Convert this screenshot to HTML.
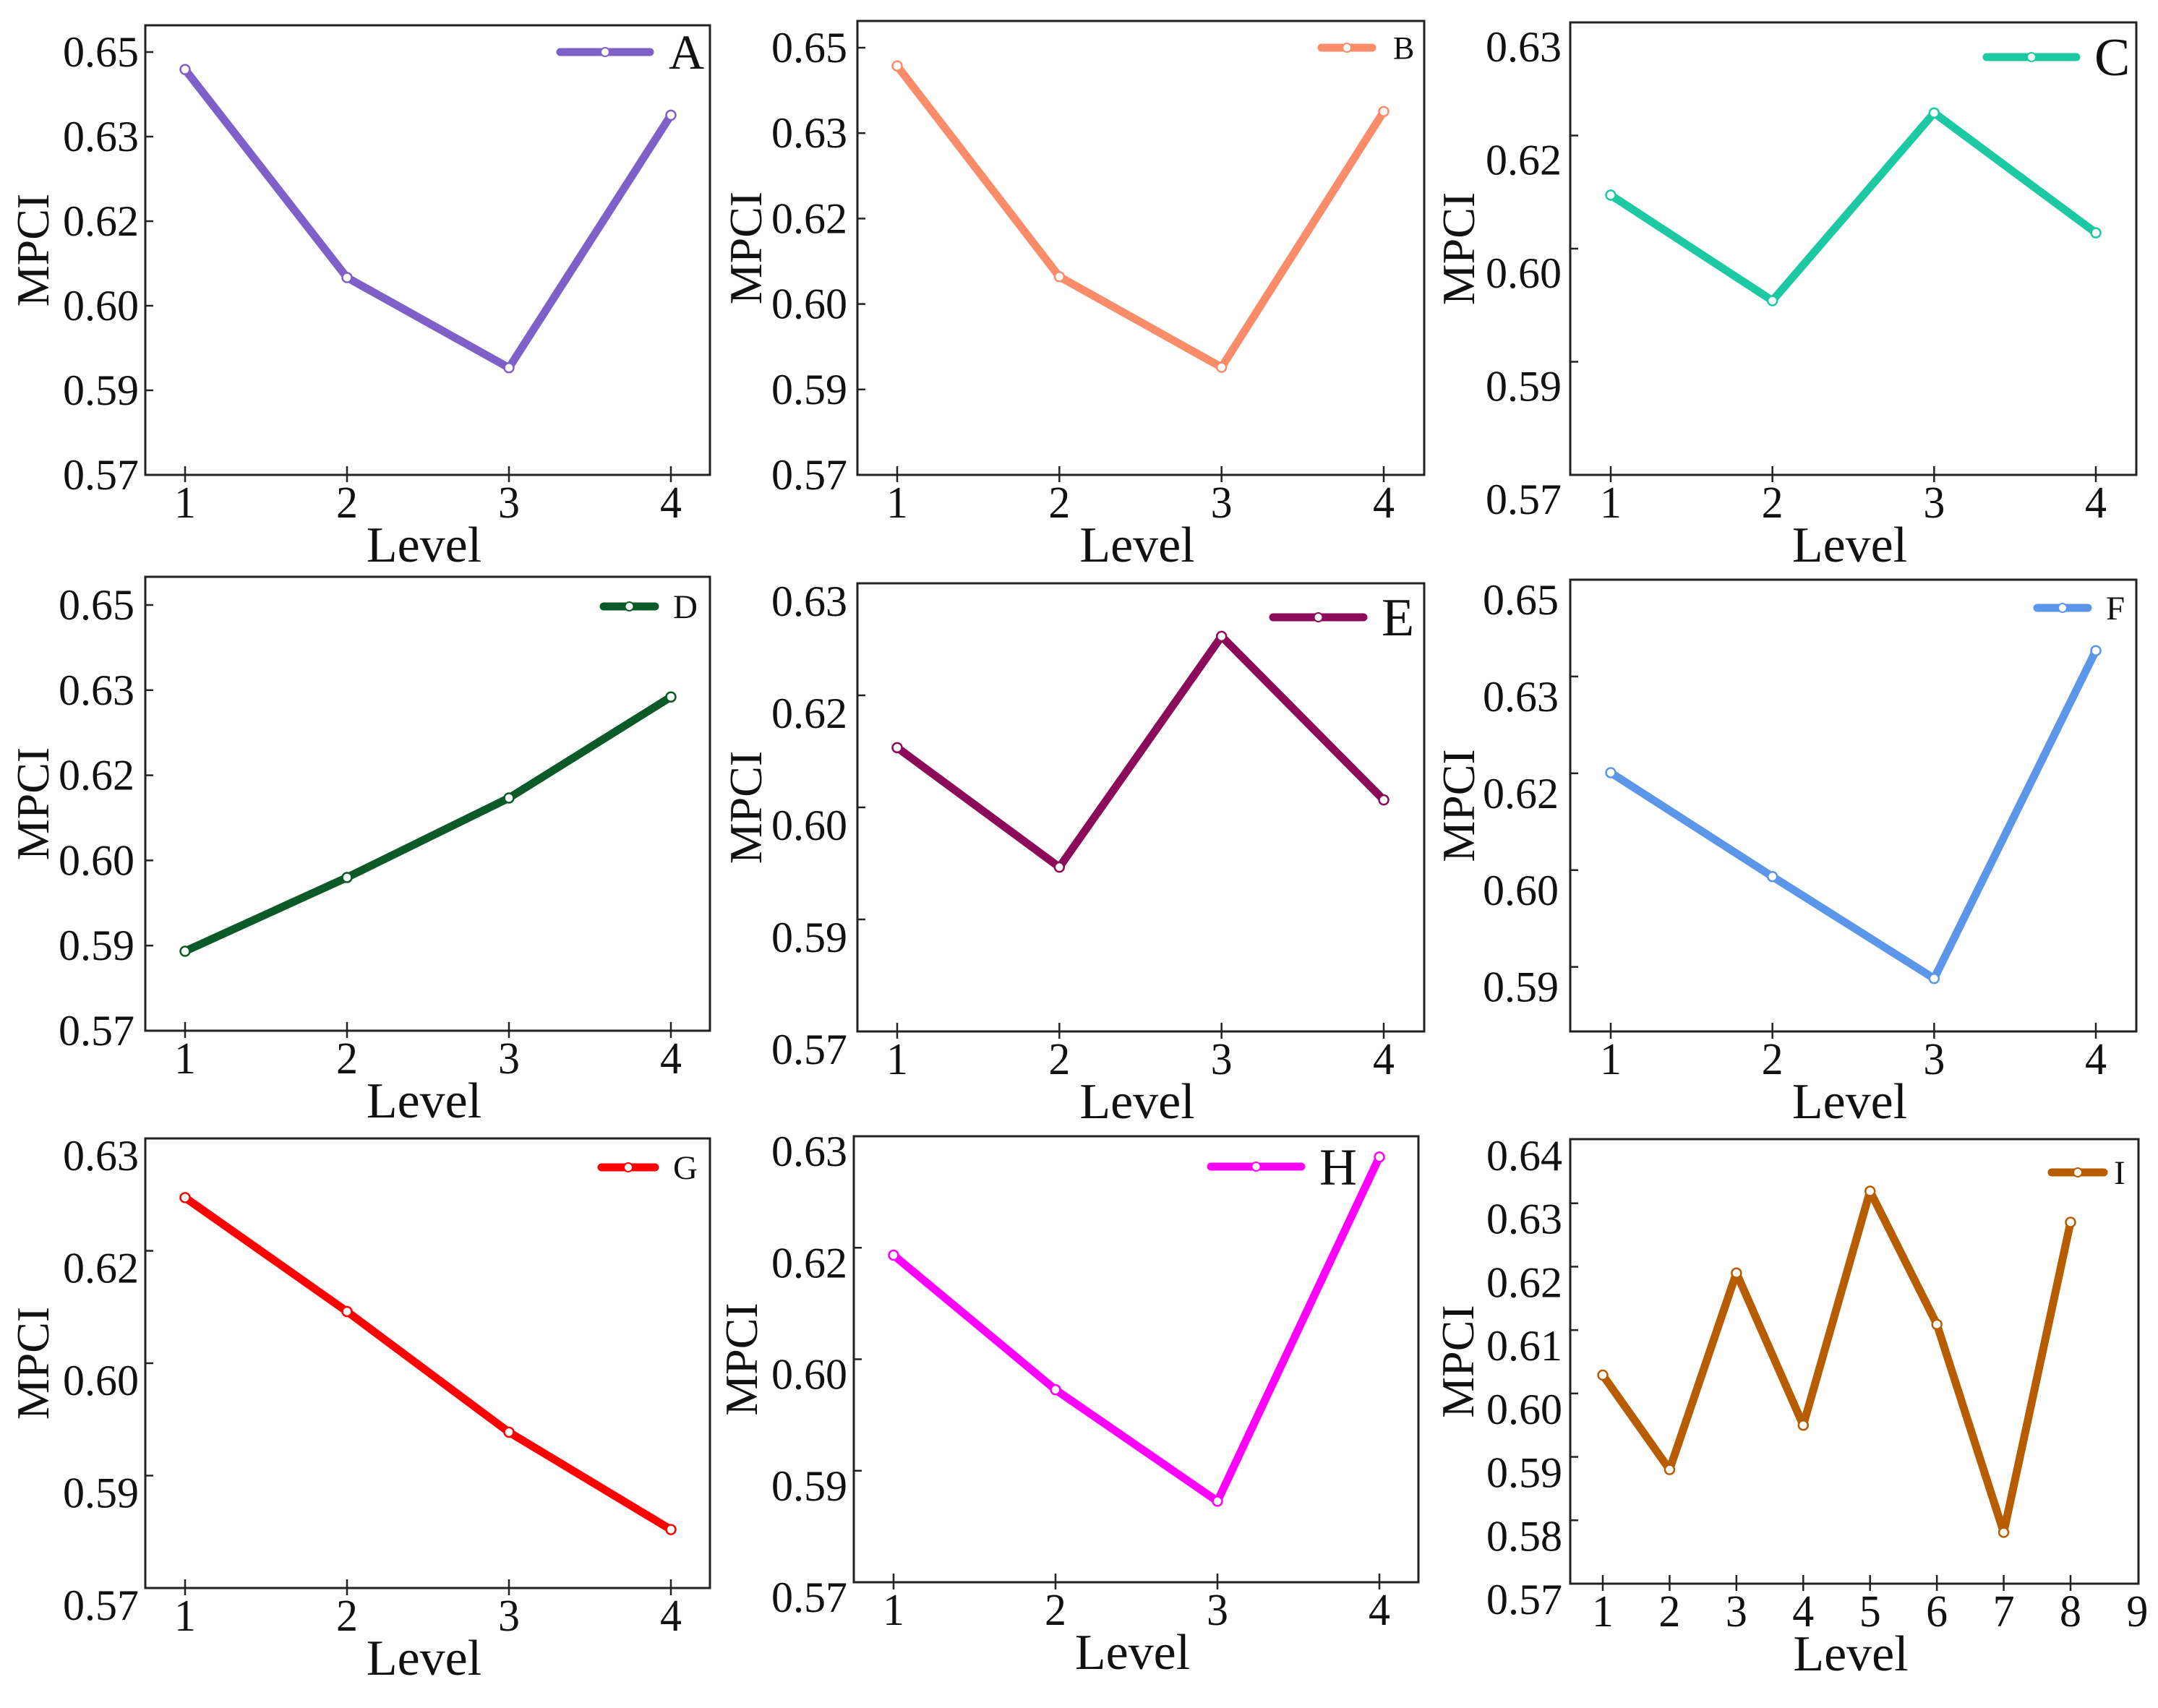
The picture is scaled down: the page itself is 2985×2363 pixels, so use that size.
<!DOCTYPE html>
<html><head><meta charset="utf-8"><style>
html,body{margin:0;padding:0;background:#fff}
svg{display:block}
text{font-family:"Liberation Serif",serif;fill:#111}
</style></head><body>
<svg id="fig" width="2985" height="2363" viewBox="0 0 2985 2363" xmlns="http://www.w3.org/2000/svg"></svg>
<script>
// ---- data ----
const levels4 = [1, 2, 3, 4];
const levels8 = [1, 2, 3, 4, 5, 6, 7, 8];
const xTickLabels4 = ["1", "2", "3", "4"];
const xTickLabels9 = ["1", "2", "3", "4", "5", "6", "7", "8", "9"];
const valuesA = [0.6469, 0.6100, 0.5940, 0.6388];
const valuesB = [0.6468, 0.6098, 0.5939, 0.6388];
const valuesC = [0.6071, 0.5931, 0.6180, 0.6021];
const valuesD = [0.5890, 0.6020, 0.6160, 0.6338];
const valuesE = [0.6080, 0.5920, 0.6229, 0.6010];
const valuesF = [0.6201, 0.6040, 0.5882, 0.6390];
const valuesG = [0.6221, 0.6069, 0.5908, 0.5778];
const valuesH = [0.6140, 0.5959, 0.5809, 0.6272];
const valuesI = [0.6029, 0.5880, 0.6190, 0.5950, 0.6319, 0.6109, 0.5781, 0.6270];
const yTicksAB = [0.575, 0.59, 0.605, 0.62, 0.635, 0.65];
const yLabelsAB = ["0.57", "0.59", "0.60", "0.62", "0.63", "0.65"];
const yTicksC = [0.57, 0.585, 0.60, 0.615, 0.63];
const yLabelsC = ["0.57", "0.59", "0.60", "0.62", "0.63"];
const yTicksF = [0.59, 0.605, 0.62, 0.635, 0.65];
const yLabelsF = ["0.59", "0.60", "0.62", "0.63", "0.65"];
const yTicksI = [0.57, 0.58, 0.59, 0.60, 0.61, 0.62, 0.63, 0.64];
const yLabelsI = ["0.57", "0.58", "0.59", "0.60", "0.61", "0.62", "0.63", "0.64"];
const seriesNames = ["A", "B", "C", "D", "E", "F", "G", "H", "I"];

// ---- layout (pixels) ----
const panels = [
 {n:"A",vals:valuesA,cats:levels4,xl:xTickLabels4,yt:yTicksAB,yl:yLabelsAB,color:"#7f5fc8",L:201,T:35,R:982,B:657,x0:256,x1:928,v0:0.575,p0:657,v1:0.65,p1:72,lo:0,lr:192,my:45,leg:[775,899,72,925,68]},
 {n:"B",vals:valuesB,cats:levels4,xl:xTickLabels4,yt:yTicksAB,yl:yLabelsAB,color:"#fa8c6a",L:1186,T:29,R:1970,B:657,x0:1241,x1:1914,v0:0.575,p0:657,v1:0.65,p1:66,lo:0,lr:1172,my:1031,leg:[1828,1898,66,1927,44]},
 {n:"C",vals:valuesC,cats:levels4,xl:xTickLabels4,yt:yTicksC,yl:yLabelsC,color:"#1cc9a3",L:2172,T:31,R:2955,B:657,x0:2228,x1:2899,v0:0.57,p0:657,v1:0.63,p1:31,lo:34,lr:2160,my:2017,leg:[2748,2872,79,2897,74]},
 {n:"D",vals:valuesD,cats:levels4,xl:xTickLabels4,yt:yTicksAB,yl:yLabelsAB,color:"#0b5a27",L:201,T:798,R:982,B:1426,x0:256,x1:928,v0:0.575,p0:1426,v1:0.65,p1:837,lo:0,lr:186,my:45,leg:[835,906,839,931,47]},
 {n:"E",vals:valuesE,cats:levels4,xl:xTickLabels4,yt:yTicksC,yl:yLabelsC,color:"#8b0a5a",L:1186,T:807,R:1970,B:1427,x0:1241,x1:1914,v0:0.57,p0:1427,v1:0.63,p1:807,lo:25,lr:1172,my:1031,leg:[1761,1886,854,1911,74]},
 {n:"F",vals:valuesF,cats:levels4,xl:xTickLabels4,yt:yTicksF,yl:yLabelsF,color:"#5b96e8",L:2172,T:802,R:2955,B:1427,x0:2228,x1:2899,v0:0.58,p0:1427,v1:0.65,p1:802,lo:28,lr:2156,my:2017,leg:[2818,2888,841,2913,47]},
 {n:"G",vals:valuesG,cats:levels4,xl:xTickLabels4,yt:yTicksC,yl:yLabelsC,color:"#ff0000",L:201,T:1575,R:982,B:2197,x0:256,x1:928,v0:0.57,p0:2197,v1:0.63,p1:1575,lo:24,lr:192,my:45,leg:[832,906,1615,931,47]},
 {n:"H",vals:valuesH,cats:levels4,xl:xTickLabels4,yt:yTicksC,yl:yLabelsC,color:"#ff00ff",L:1181,T:1572,R:1962,B:2189,x0:1236,x1:1908,v0:0.57,p0:2189,v1:0.63,p1:1572,lo:21,lr:1172,my:1025,leg:[1675,1800,1614,1825,72]},
 {n:"I",vals:valuesI,cats:levels8,xl:xTickLabels9,yt:yTicksI,yl:yLabelsI,color:"#b85c00",L:2172,T:1576,R:2958,B:2191,x0:2217,x1:2864,v0:0.57,p0:2191,v1:0.64,p1:1577,lo:22,lr:2161,my:2016,leg:[2838,2910,1622,2924,47]}
];

const NS = "http://www.w3.org/2000/svg";
const svg = document.getElementById("fig");
function mk(tag, attrs, parent) {
  const e = document.createElementNS(NS, tag);
  for (const k in attrs) e.setAttribute(k, attrs[k]);
  parent.appendChild(e);
  return e;
}

panels.forEach(function (p) {
  const nCats = p.cats.length;
  const xs = function (c) { return p.x0 + (c - p.cats[0]) * (p.x1 - p.x0) / (p.cats[nCats - 1] - p.cats[0]); };
  const ys = function (v) { return p.p0 + (v - p.v0) * (p.p1 - p.p0) / (p.v1 - p.v0); };
  const g = mk("g", {}, svg);
  
  

  const fr = mk("rect", {x:p.L, y:p.T, width:p.R - p.L, height:p.B - p.T, fill:"none", stroke:"#222", "stroke-width":3}, g);
  
  

  p.xl.forEach(function (lab, i) {
    const c = p.cats[0] + i;
    const x = xs(c);
    if (i < nCats) {
      const t = mk("line", {x1:x, x2:x, y1:p.B - 12, y2:p.B + 10, stroke:"#222", "stroke-width":2.5}, g);
      
      
    }
    const tx = mk("text", {x:x, y:p.B + 59, "font-size":60, "text-anchor":"middle", transform:"translate(0 " + (p.B + 59) + ") scale(1 1.05) translate(0 " + (-(p.B + 59)) + ")"}, g);
    tx.textContent = lab;
    
    
  });

  p.yt.forEach(function (v, i) {
    const y = ys(v);
    if (y > p.T + 3 && y < p.B - 3) {
      const t = mk("line", {x1:p.L, x2:p.L + 11, y1:y, y2:y, stroke:"#222", "stroke-width":2.5}, g);
      
      
    }
    const tx = mk("text", {x:p.lr, y:y + p.lo + 20, "font-size":60, "text-anchor":"end"}, g);
    tx.textContent = p.yl[i];
    
    
  });

  const xt = mk("text", {x:(p.L + p.R) / 2 - 5, y:p.B + 120, "font-size":70, "text-anchor":"middle"}, g);
  xt.textContent = "Level";
  
  

  const cy = (p.T + p.B) / 2;
  const yt = mk("text", {x:p.my + 22, y:cy, "font-size":64, "text-anchor":"middle", transform:"rotate(-90 " + (p.my + 22) + " " + cy + ")"}, g);
  yt.textContent = "MPCI";
  
  

  const pts = p.vals.map(function (v, i) { return xs(p.cats[i]) + "," + ys(v); }).join(" ");
  const pl = mk("polyline", {points:pts, fill:"none", stroke:p.color, "stroke-width":11, "stroke-linejoin":"round", "stroke-linecap":"round"}, g);
  
  
  p.vals.forEach(function (v, i) {
    const c = mk("circle", {cx:xs(p.cats[i]), cy:ys(v), r:6.5, fill:"#fff", stroke:p.color, "stroke-width":2.5}, g);
    
    
  });

  const lg = mk("g", {}, g);
  
  
  const L = p.leg;
  mk("line", {x1:L[0], x2:L[1], y1:L[2], y2:L[2], stroke:p.color, "stroke-width":11, "stroke-linecap":"round"}, lg);
  mk("circle", {cx:(L[0] + L[1]) / 2, cy:L[2], r:6, fill:"#fff", stroke:p.color, "stroke-width":2}, lg);
  const lt = mk("text", {x:L[3], y:L[2] + L[4] * 0.34, "font-size":L[4]}, lg);
  lt.textContent = seriesNames[panels.indexOf(p)];
  
  
});
</script>
</body></html>
